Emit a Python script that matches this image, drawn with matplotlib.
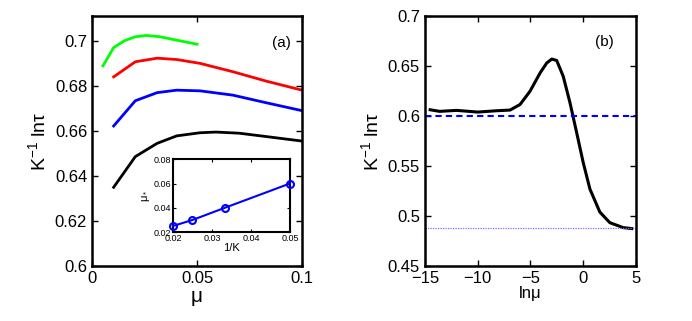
import matplotlib
matplotlib.use("Agg")
import matplotlib.pyplot as plt

plt.rcParams['font.family'] = ['Liberation Sans', 'DejaVu Sans']
plt.rcParams['mathtext.fontset'] = 'custom'
plt.rcParams['mathtext.rm'] = 'Liberation Sans'
plt.rcParams['mathtext.it'] = 'Liberation Sans:italic'

# panel (a): K^-1 ln(tau) vs mu for several K
green_mu = [0.0052, 0.0103, 0.0153, 0.0206, 0.026, 0.0324, 0.0403, 0.050]
green_y = [0.6889, 0.697, 0.700, 0.7018, 0.7024, 0.7018, 0.7003, 0.6985]
red_mu = [0.0103, 0.0206, 0.031, 0.0403, 0.0514, 0.067, 0.083, 0.1]
red_y = [0.6840, 0.6907, 0.6923, 0.6917, 0.690, 0.6863, 0.6821, 0.6781]
blue_mu = [0.0103, 0.0206, 0.031, 0.0403, 0.0514, 0.067, 0.083, 0.1]
blue_y = [0.6622, 0.6734, 0.677, 0.6781, 0.6778, 0.6759, 0.6725, 0.669]
black_mu = [0.0103, 0.0206, 0.031, 0.0403, 0.0514, 0.059, 0.070, 0.083, 0.1]
black_y = [0.635, 0.6486, 0.6545, 0.6578, 0.6592, 0.6595, 0.659, 0.6575, 0.6555]

# inset: mu_* vs 1/K
inv_k = [0.02, 0.025, 0.0333, 0.05]
mu_star = [0.025, 0.03, 0.04, 0.06]

# panel (b): K^-1 ln(tau) vs ln(mu)
ln_mu = [-14.5, -13.6, -12.0, -10.0, -8.25, -6.93, -5.98, -5.04, -4.09, -3.46, -2.98,
         -2.51, -1.89, -1.25, -0.62, 0.0, 0.64, 1.58, 2.53, 3.79, 4.6]
b_y = [0.6063, 0.6047, 0.6057, 0.604, 0.6053, 0.606, 0.6116, 0.6248, 0.643, 0.653, 0.657,
       0.6556, 0.6397, 0.6133, 0.5835, 0.5537, 0.527, 0.504, 0.4934, 0.4885, 0.4875]
dash_level = 0.6
dot_level = 0.4885

fig = plt.figure(figsize=(6.92, 3.21), dpi=100)


def style(ax, size=12):
    ax.tick_params(direction='in', top=True, right=True, labelsize=size, width=1, length=4)
    for s in ax.spines.values():
        s.set_linewidth(1.8)


# (a)
ax1 = fig.add_axes([0.133, 0.171, 0.3035, 0.779])
ax1.plot(green_mu, green_y, color='#00ff00', lw=2)
ax1.plot(red_mu, red_y, color='red', lw=2)
ax1.plot(blue_mu, blue_y, color='blue', lw=2)
ax1.plot(black_mu, black_y, color='black', lw=2)
ax1.set_xlim(0, 0.1)
ax1.set_ylim(0.6, 0.711)
ax1.set_xticks([0, 0.05, 0.1])
ax1.set_xticklabels(['0', '0.05', '0.1'])
ax1.set_yticks([0.6, 0.62, 0.64, 0.66, 0.68, 0.7])
ax1.set_yticklabels(['0.6', '0.62', '0.64', '0.66', '0.68', '0.7'])
style(ax1)
ax1.set_xlabel('μ', fontsize=15, labelpad=1)
ax1.set_ylabel(r'K$^{-1}$ lnτ', fontsize=14, labelpad=4)
ax1.text(0.090, 0.699, '(a)', fontsize=11, ha='center', va='center')

# inset
axi = fig.add_axes([0.25, 0.277, 0.169, 0.227])
axi.plot(inv_k, mu_star, color='blue', lw=1.5, marker='o', mfc='none', mew=1.5, ms=5,
         clip_on=False, zorder=5)
axi.set_xlim(0.02, 0.05)
axi.set_ylim(0.02, 0.08)
axi.set_xticks([0.02, 0.03, 0.04, 0.05])
axi.set_xticklabels(['0.02', '0.03', '0.04', '0.05'])
axi.set_yticks([0.02, 0.04, 0.06, 0.08])
axi.set_yticklabels(['0.02', '0.04', '0.06', '0.08'])
axi.tick_params(direction='in', top=True, right=True, labelsize=6.5, width=0.8, length=2.5, pad=1.5)
for s in axi.spines.values():
    s.set_linewidth(1.5)
axi.set_xlabel('1/K', fontsize=8, labelpad=0)
axi.set_ylabel(r'μ$_*$', fontsize=8, labelpad=1)

# (b)
ax2 = fig.add_axes([0.614, 0.171, 0.305, 0.779])
ax2.plot(ln_mu, b_y, color='black', lw=2.2)
ax2.axhline(dash_level, color='blue', lw=1.5, ls=(0, (3, 2)))
ax2.axhline(dot_level, color='#7070ff', lw=0.9, ls=(0, (1, 1)))
ax2.set_xlim(-15, 5)
ax2.set_ylim(0.45, 0.7)
ax2.set_xticks([-15, -10, -5, 0, 5])
ax2.set_xticklabels(['\u221215', '\u221210', '\u22125', '0', '5'])
ax2.set_yticks([0.45, 0.5, 0.55, 0.6, 0.65, 0.7])
ax2.set_yticklabels(['0.45', '0.5', '0.55', '0.6', '0.65', '0.7'])
style(ax2)
ax2.set_xlabel('lnμ', fontsize=12, labelpad=0)
ax2.set_ylabel(r'K$^{-1}$ lnτ', fontsize=14, labelpad=4)
ax2.text(2.0, 0.6736, '(b)', fontsize=11, ha='center', va='center')

fig.savefig('out.png', dpi=100)
